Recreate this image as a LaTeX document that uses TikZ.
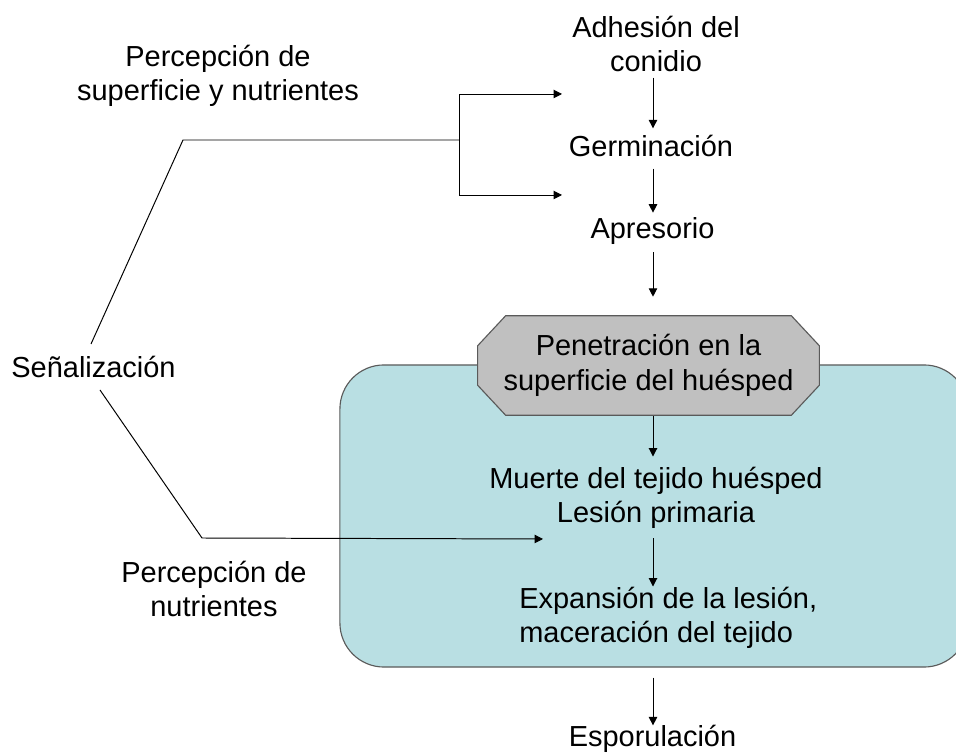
\documentclass[tikz,border=0pt]{standalone}
\usepackage{fontspec}
\setmainfont{Liberation Sans}
\usetikzlibrary{arrows.meta,backgrounds,calc}
\definecolor{hostblue}{RGB}{185,223,227}
\definecolor{edgegray}{RGB}{90,90,90}
\definecolor{pengray}{RGB}{192,192,192}
\def\chamx{0.7cm}
\def\chamy{0.75cm}

\begin{document}
\begin{tikzpicture}[x=0.025cm,y=-0.025cm,
    font=\fontsize{20.6}{24.8}\selectfont,
    arr/.style={-{Triangle[length=6pt,width=6pt]},line width=0.7pt,black},
    sig/.style={line width=0.7pt,black},
    lbl/.style={inner sep=0pt,align=center,anchor=base}]
    \tikzstyle{host}=[draw=edgegray,fill=hostblue,line width=0.8pt,rounded corners=1.1cm,
        minimum width=15.7cm,minimum height=7.55cm]
    \tikzstyle{octa}=[draw=edgegray,fill=pengray,line width=0.8pt]
    \useasboundingbox (0,0) rectangle (956,753);

    % Main chain of the infection
    \node[lbl] (adh) at (656,72) {Adhesión del\\conidio};
    \node[lbl] (germ) at (651,157) {Germinación};
    \node[lbl] (apr) at (652.5,239) {Apresorio};
    \node[inner sep=0pt,minimum width=8.525cm,minimum height=2.475cm,align=center]
        (pen) at (648.5,365.5) {Penetración en la\\superficie del huésped};
    \node[lbl] (muerte) at (656,523) {Muerte del tejido huésped\\Lesión primaria};
    \node[lbl,align=left,anchor=base west] (exp) at (519,643) {Expansión de la lesión,\\maceración del tejido};
    \node[lbl] (esp) at (652.5,747) {Esporulación};

    % Signals on the left
    \node[lbl] (perc1) at (218,101) {Percepción de\\superficie y nutrientes};
    \node[lbl] (senal) at (93.5,378) {Señalización};
    \node[lbl] (perc2) at (214,617) {Percepción de\\nutrientes};

    % Host tissue and the penetration box
    \begin{scope}[on background layer]
        \node[host] (tissue) at (654,516) {};
        \draw[octa] ([xshift=\chamx]pen.north west) -- ([xshift=-\chamx]pen.north east)
            -- ([yshift=-\chamy]pen.north east) -- ([yshift=\chamy]pen.south east)
            -- ([xshift=-\chamx]pen.south east) -- ([xshift=\chamx]pen.south west)
            -- ([yshift=\chamy]pen.south west) -- ([yshift=-\chamy]pen.north west) -- cycle;
    \end{scope}

    % Connect the steps
    \coordinate (ax) at (653,0);
    \foreach \a/\b/\s/\e in {adh/germ/3.6/5,germ/apr/7.8/3.6,apr/pen/5/13.5,
        pen/muerte/0.7/7.1,muerte/exp/6.4/0,tissue/esp/7.1/0}
        \draw[arr,shorten <=\s pt,shorten >=\e pt] (\a.south -| ax) -- (\b.north -| ax);

    % Signal lines
    \coordinate (b1) at (183,140);
    \coordinate (fork) at (459,140);
    \coordinate (t1) at (562,94);
    \coordinate (t2) at (562,195);
    \coordinate (b2) at (202,538);
    \coordinate (t3) at (543,539);
    \draw[sig] ([shift={(-2.5,-34)}]senal.base) -- (b1) -- (fork);
    \draw[arr] (fork) |- (t1);
    \draw[arr] (fork) |- (t2);
    \draw[arr] ([shift={(6.5,12)}]senal.base) -- (b2) -- (t3);
\end{tikzpicture}
\end{document}
